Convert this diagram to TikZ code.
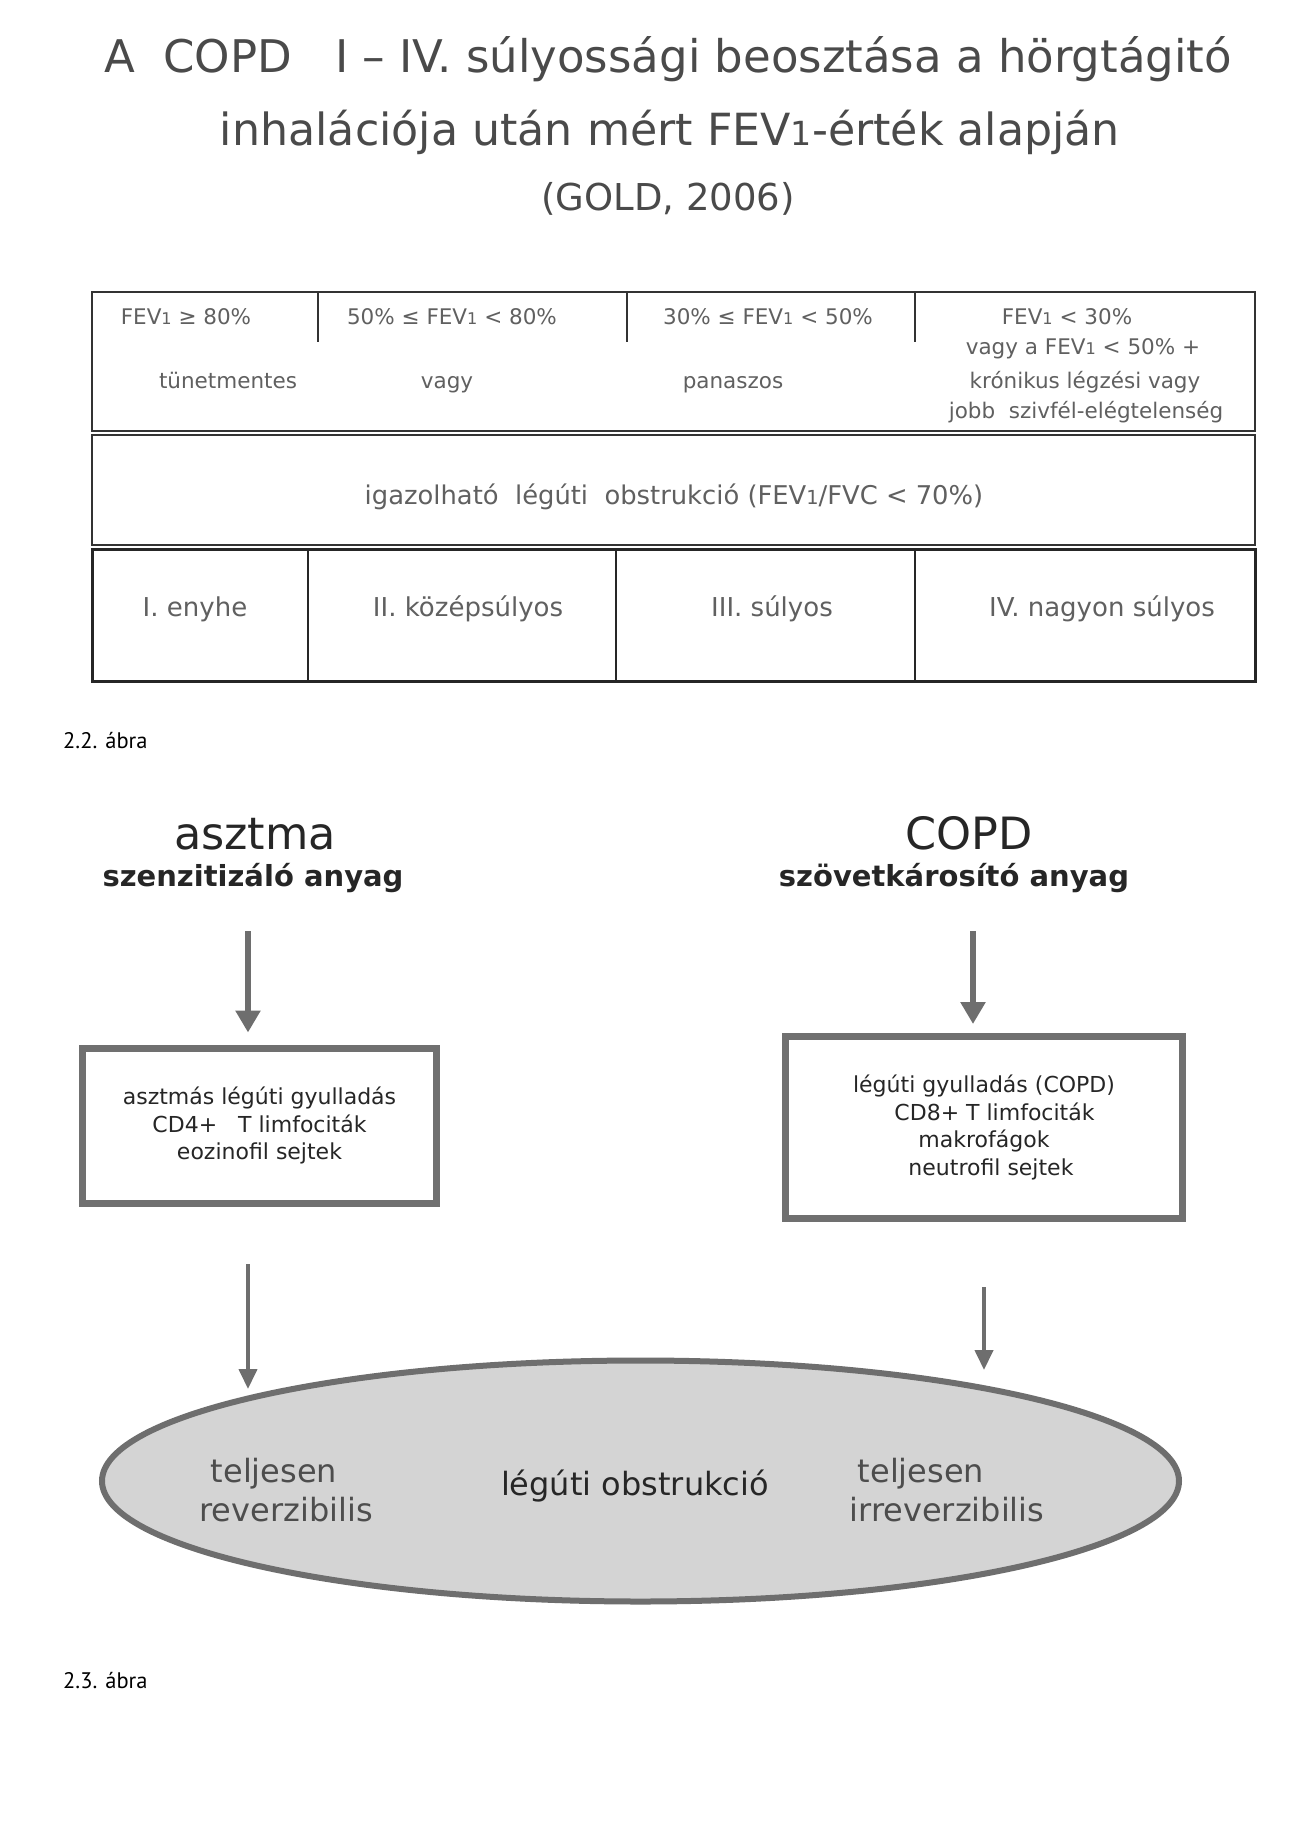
\documentclass[tikz,border=0pt]{standalone}
\usepackage{fontspec}
\setmainfont{DejaVu Sans}
\newfontfamily\capfont{PT Sans}
\usetikzlibrary{arrows.meta}
\definecolor{titlegray}{HTML}{4A4A4A}
\definecolor{tabtext}{HTML}{606060}
\definecolor{tabline}{HTML}{333333}
\definecolor{arrowgray}{HTML}{6E6E6E}
\definecolor{boxgray}{HTML}{707070}
\definecolor{ellfill}{HTML}{D4D4D4}
\definecolor{darktext}{HTML}{262626}
\newcommand{\sone}{\scalebox{0.75}{1}}
\newcommand{\fs}[1]{\fontsize{#1}{#1}\selectfont}
\begin{document}
\begin{tikzpicture}[x=1pt,y=-1pt,
  titletxt/.style={anchor=base,inner sep=0pt,text=titlegray,font=\fs{45}},
  tabtxt/.style={anchor=base,inner sep=0pt,text=tabtext,font=\fs{21.5}},
  gradetxt/.style={anchor=base,inner sep=0pt,text=tabtext,font=\fs{26}},
  thinbox/.style={draw=tabline,line width=1.6pt},
  thickbox/.style={draw=black!85,line width=3pt},
  headtxt/.style={anchor=base,inner sep=0pt,text=darktext,font=\fs{44.5}},
  boldtxt/.style={anchor=base,inner sep=0pt,text=darktext,font=\bfseries\fs{29}},
  cellbox/.style={draw=boxgray,line width=7pt,fill=white,inner sep=0pt,align=center,text=darktext,font={\fontsize{22}{27.5}\selectfont}},
  bigarrow/.style={draw=arrowgray,line width=6pt,-{Triangle[width=24pt,length=22pt]},arrowgray},
  midarrow/.style={draw=arrowgray,line width=4pt,-{Triangle[width=18pt,length=20pt]},arrowgray},
  elltxt/.style={anchor=base,inner sep=0pt,text=tabtext!80!black,font=\fs{32}},
  captxt/.style={anchor=base west,inner sep=0pt,text=black,font=\capfont\fs{22.5}}
]
\useasboundingbox[fill=white] (0,0) rectangle (1303,1831);

% ---- title
\node[titletxt] (t1) at (668,72) {A\ \ COPD\ \ \ I – IV. súlyossági beosztása a hörgtágitó};
\node[titletxt,font=\fs{44.3}] (t2) at (670,145) {inhalációja után mért FEV\sone-érték alapján};
\node[titletxt,font=\fs{37}] (t3) at (668,210) {(GOLD, 2006)};

% ---- table: top box
\node[thinbox,minimum width=1163pt,minimum height=139pt,inner sep=0pt] (topbox) at (673.5,361.5) {};
\draw[tabline,line width=2pt] (318,292) -- (318,342) (627,292) -- (627,342) (915,292) -- (915,342);
\node[tabtxt] (c11) at (186,324) {FEV\sone\ ≥ 80\%};
\node[tabtxt] (c12) at (452,324) {50\% ≤ FEV\sone\ < 80\%};
\node[tabtxt] (c13) at (768,324) {30\% ≤ FEV\sone\ < 50\%};
\node[tabtxt] (c14) at (1067,324) {FEV\sone\ < 30\%};
\node[tabtxt] (c14b) at (1083,354) {vagy a FEV\sone\ < 50\% +};
\node[tabtxt] (c14c) at (1085,388) {krónikus légzési vagy};
\node[tabtxt] (c14d) at (1086,418) {jobb\ \ szivfél-elégtelenség};
\node[tabtxt] (c21) at (228,388) {tünetmentes};
\node[tabtxt] (c22) at (447,388) {vagy};
\node[tabtxt] (c23) at (733,388) {panaszos};

% ---- middle box
\node[thinbox,minimum width=1163pt,minimum height=110pt,inner sep=0pt] (midbox) at (673.5,490) {};
\node[tabtxt,font=\fs{25.8}] (mt) at (674,504) {igazolható\ \ légúti\ \ obstrukció (FEV\sone/FVC < 70\%)};

% ---- grade row
\node[thickbox,minimum width=1163pt,minimum height=132pt,inner sep=0pt] (gradebox) at (673.5,615) {};
\draw[black!85,line width=2.2pt] (308,549) -- (308,681) (616,549) -- (616,681) (915,549) -- (915,681);
\node[gradetxt] (g1) at (195,616) {I. enyhe};
\node[gradetxt] (g2) at (468,616) {II. középsúlyos};
\node[gradetxt] (g3) at (772,616) {III. súlyos};
\node[gradetxt] (g4) at (1102,616) {IV. nagyon súlyos};

% ---- captions
\node[captxt] (cap1) at (63,748) {2.2. ábra};
\node[captxt] (cap2) at (63,1688) {2.3. ábra};

% ---- lower diagram headings
\node[headtxt] (h1) at (255,849) {asztma};
\node[boldtxt] (b1) at (253,886) {szenzitizáló anyag};
\node[headtxt] (h2) at (969,849) {COPD};
\node[boldtxt] (b2) at (954,886) {szövetkárosító anyag};

% ---- boxes
\node[cellbox,minimum width=354pt,minimum height=155pt] (lbox) at (259.5,1125.5)
  {asztmás légúti gyulladás\\CD4+\ \ \ T limfociták\\eozinofil sejtek};
\node[cellbox,minimum width=397pt,minimum height=182pt] (rbox) at (984,1127.5)
  {légúti gyulladás (COPD)\\\ \ \ CD8+ T limfociták\\makrofágok\\\ \ neutrofil sejtek};

% ---- ellipse
\draw[draw=arrowgray,fill=ellfill,line width=6pt] (640.5,1481) ellipse [x radius=538.5pt,y radius=120.5pt];
\coordinate (ell) at (640.5,1481);
\node[elltxt] (e1) at (274,1482) {teljesen};
\node[elltxt] (e2) at (286,1521) {reverzibilis};
\node[elltxt,text=darktext] (e3) at (635,1495) {légúti obstrukció};
\node[elltxt] (e4) at (921,1482) {teljesen};
\node[elltxt] (e5) at (947,1521) {irreverzibilis};

% ---- arrows
\coordinate (la1) at (248,931);
\coordinate (ra1) at (973,931);
\coordinate (la2) at (248,1264);
\coordinate (la2e) at (248,1389);
\coordinate (ra2) at (984,1287);
\coordinate (ra2e) at (984,1370);
\draw[bigarrow,shorten >=12pt] (la1) -- (la1 |- lbox.north);
\draw[bigarrow,shorten >=9pt] (ra1) -- (ra1 |- rbox.north);
\draw[midarrow] (la2) -- (la2e);
\draw[midarrow] (ra2) -- (ra2e);
\end{tikzpicture}
\end{document}
